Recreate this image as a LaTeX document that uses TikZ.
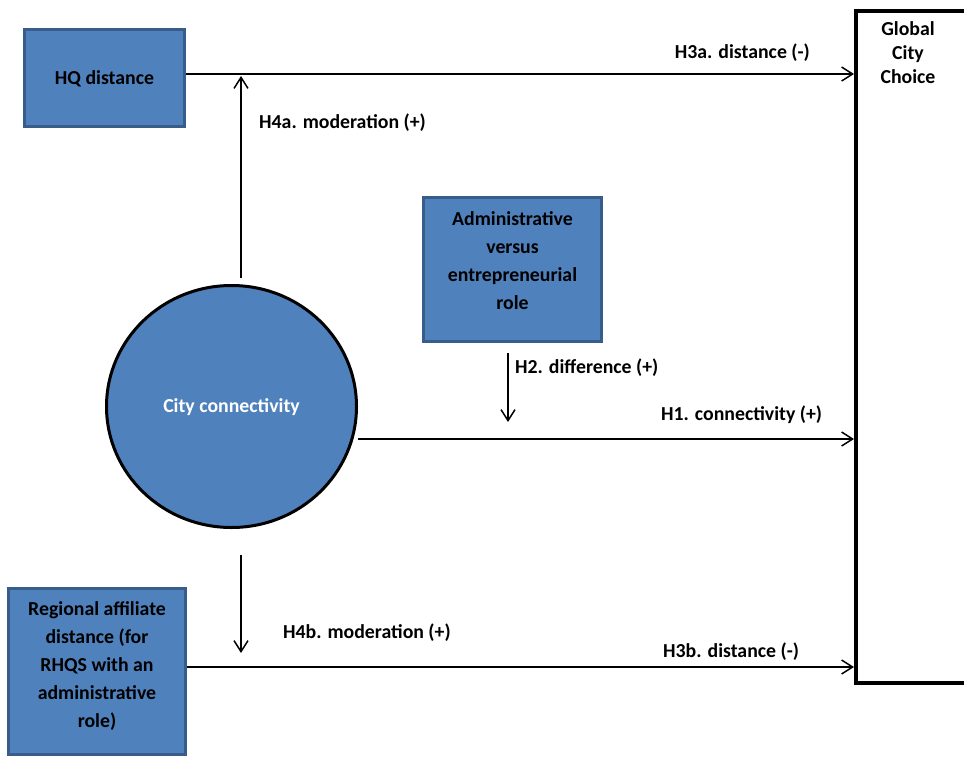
\documentclass[tikz,border=0pt]{standalone}
\usepackage{fontspec}
\setmainfont{Carlito}
\usetikzlibrary{arrows.meta,shapes.geometric}
\definecolor{boxfill}{HTML}{4F81BD}
\definecolor{boxline}{HTML}{385D8A}
\begin{document}
\begin{tikzpicture}[x=1pt,y=-1pt,
  font=\bfseries\fontsize{19.8}{28}\selectfont,
  bluebox/.style={draw=boxline, line width=2.5pt, fill=boxfill, inner sep=0pt},
  boxtext/.style={align=center, inner sep=0pt},
  conn/.style={line width=1.5pt, -{Straight Barb[length=11pt,width=14pt,line width=1.5pt]}},
  lbl/.style={anchor=west, inner sep=0pt}]
\useasboundingbox (0,0) rectangle (964,758);
\clip (0,0) rectangle (964,758);

% boxes
\node[bluebox, minimum width=160pt, minimum height=97pt] (hq) at (104.5,78) {};
\node[boxtext] (hqtext) at (104.5,79) {HQ distance};

\node[bluebox, minimum width=178pt, minimum height=144pt] (admin) at (512.5,269.5) {};
\node[boxtext] (admintext) at (512.5,261) {Administrative\\versus\\entrepreneurial\\role};

\node[bluebox, minimum width=177pt, minimum height=166pt] (reg) at (97,671.5) {};
\node[boxtext] (regtext) at (97,666) {Regional affiliate\\distance (for\\RHQS with an\\administrative\\role)};

\node[draw, ellipse, line width=3pt, fill=boxfill, minimum width=250pt, minimum height=242pt, inner sep=0pt] (cc) at (231.5,406.5) {};
\node[boxtext, text=white] (cctext) at (231.5,407) {City connectivity};

\node[draw, line width=4pt, minimum width=116pt, minimum height=672pt, anchor=north west, inner sep=0pt] (gc) at (854,9) {};
\node[boxtext, font=\bfseries\fontsize{19.8}{24}\selectfont] (gctext) at (908,53) {Global\\City\\Choice};

% free ends
\coordinate (h4atop) at (241,76);
\coordinate (h4abot) at (241,278);
\coordinate (h4btop) at (241,555);
\coordinate (h4bbot) at (241,653);
\coordinate (h2top) at (508,353);
\coordinate (h2bot) at (508,422);
\coordinate (h1start) at (358,439);

% connectors
\draw[conn] ([yshift=4pt]hq.east) -- ([yshift=4pt]hq.east -| gc.west);
\draw[conn] (h4abot) -- (h4atop);
\draw[conn] (h2top) -- (h2bot);
\draw[conn] (h1start) -- (h1start -| gc.west);
\draw[conn] (h4btop) -- (h4bbot);
\draw[conn] ([yshift=4.5pt]reg.east) -- ([yshift=4.5pt]reg.east -| gc.west);

% labels
\node[lbl, anchor=east] (l3a) at (810,53) {H3a. distance (-)};
\node[lbl] (l4a) at (259,123) {H4a. moderation (+)};
\node[lbl] (l2) at (515,368) {H2. difference (+)};
\node[lbl] (l1) at (661,415) {H1. connectivity (+)};
\node[lbl] (l4b) at (283,633) {H4b. moderation (+)};
\node[lbl] (l3b) at (663,652) {H3b. distance (-)};
\end{tikzpicture}
\end{document}
